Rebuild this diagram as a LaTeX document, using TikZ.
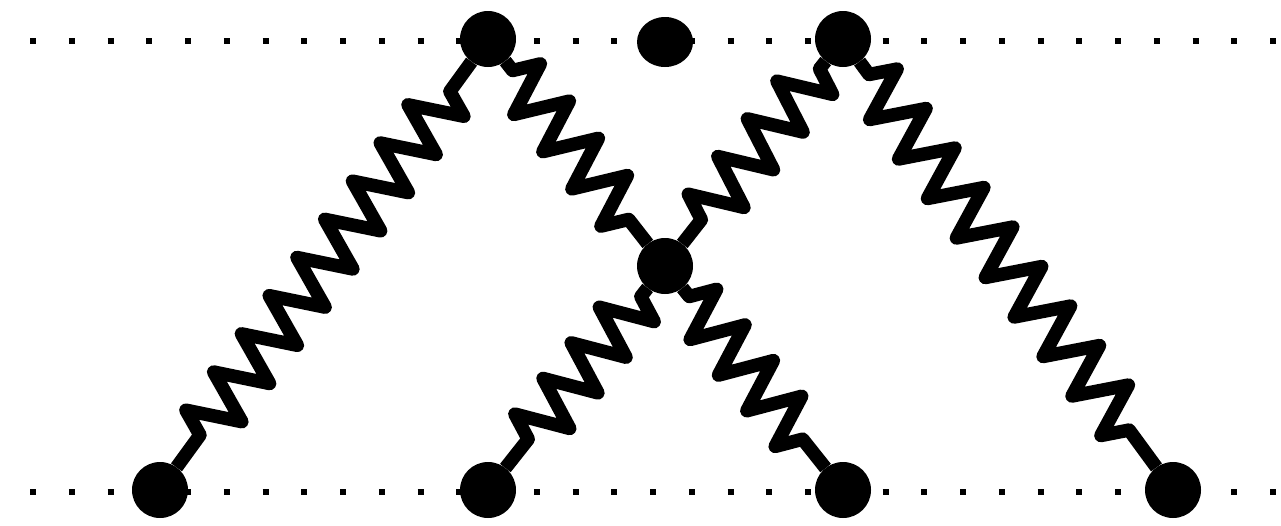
\documentclass[tikz,border=0pt]{standalone}
\usetikzlibrary{decorations.pathmorphing,shapes.geometric}
\begin{document}
\begin{tikzpicture}[x=1pt,y=-1pt,
  vtx/.style={circle,fill=black,draw=none,inner sep=0pt,outer sep=0pt,minimum size=56pt},
  oval/.style={ellipse,fill=black,draw=none,inner sep=0pt,outer sep=0pt,minimum width=56pt,minimum height=50pt},
  dotrow/.style={line width=6pt,dash pattern=on 6pt off 32.75pt},
  zz/.style n args={3}{line width=13.5pt,line join=round,decorate,
    decoration={zigzag,segment length=#1,amplitude=26pt,pre length=#2,post length=#3}}]
\useasboundingbox (0,0) rectangle (1281,525);
\coordinate (l1a) at (30,41);
\coordinate (l1b) at (1281,41);
\coordinate (l2a) at (30,492);
\coordinate (l2b) at (1281,492);
\draw[dotrow] (l1a) -- (l1b);
\draw[dotrow] (l2a) -- (l2b);
\node[vtx] (TL) at (488,39) {};
\node[oval] (TM) at (665,42) {};
\node[vtx] (TR) at (843,39) {};
\node[vtx] (C) at (665,266) {};
\node[vtx] (B1) at (160,490) {};
\node[vtx] (B2) at (488,490) {};
\node[vtx] (B3) at (843,490) {};
\node[vtx] (B4) at (1173,490) {};
\draw[zz={47.2pt}{40pt}{36pt}] (B1) -- (TL);
\draw[zz={47.2pt}{12pt}{30pt}] (TL) -- (C);
\draw[zz={47.9pt}{10pt}{30pt}] (TR) -- (C);
\draw[zz={48.95pt}{16pt}{45pt}] (TR) -- (B4);
\draw[zz={45.4pt}{11pt}{36pt}] (C) -- (B2);
\draw[zz={45.55pt}{11pt}{36pt}] (C) -- (B3);
\end{tikzpicture}
\end{document}
